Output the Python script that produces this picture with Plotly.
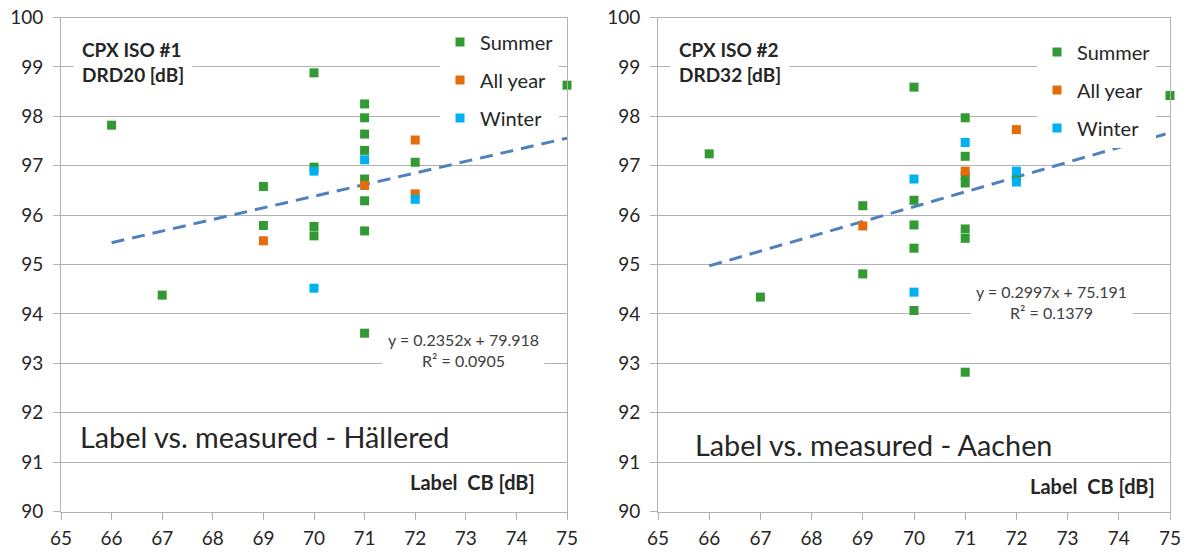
import plotly.graph_objects as go

W, H = 1187, 554

# ---------------- data ----------------
x_ticks = list(range(65, 76))
y_ticks = list(range(90, 101))

# Hällered (CPX ISO #1, DRD20)
h_summer_x = [66, 67, 69, 69, 70, 70, 70, 70, 71, 71, 71, 71, 71, 71, 71, 71, 72, 75]
h_summer_y = [97.82, 94.38, 96.58, 95.79, 98.88, 96.97, 95.77, 95.58, 98.25, 97.97,
              97.64, 97.31, 96.73, 96.29, 95.68, 93.61, 97.07, 98.63]
h_allyear_x = [69, 71, 72, 72]
h_allyear_y = [95.48, 96.60, 97.52, 96.43]
h_winter_x = [70, 70, 71, 72]
h_winter_y = [96.89, 94.52, 97.12, 96.32]
h_slope, h_intercept, h_r2 = 0.2352, 79.918, 0.0905

# Aachen (CPX ISO #2, DRD32)
a_summer_x = [66, 67, 69, 69, 70, 70, 70, 70, 70, 71, 71, 71, 71, 71, 71, 71, 72, 75]
a_summer_y = [97.24, 94.34, 96.19, 94.81, 98.59, 96.30, 95.80, 95.33, 94.07, 97.97,
              97.19, 96.80, 96.65, 95.72, 95.53, 92.82, 96.78, 98.42]
a_allyear_x = [69, 71, 72]
a_allyear_y = [95.78, 96.89, 97.73]
a_winter_x = [70, 70, 71, 72, 72]
a_winter_y = [96.73, 94.44, 97.47, 96.89, 96.67]
a_slope, a_intercept, a_r2 = 0.2997, 75.191, 0.1379

trend_x = [66, 75]
season_names = ["Summer", "All year", "Winter"]

# ---------------- style ----------------
GREEN, ORANGE, BLUE = "#339933", "#E46C0A", "#00B0F0"
TREND = "#4F81BD"
GRID = "#B2B2B2"
TXT = "#262626"
FONT = "Lato"


def fx(p):
    return p / W


def fy(p):
    return 1 - p / H


fig = go.Figure()

panels = [
    dict(xa="x", ya="y", leg="legend",
         data=[(h_summer_x, h_summer_y), (h_allyear_x, h_allyear_y), (h_winter_x, h_winter_y)],
         slope=h_slope, icpt=h_intercept),
    dict(xa="x2", ya="y2", leg="legend2",
         data=[(a_summer_x, a_summer_y), (a_allyear_x, a_allyear_y), (a_winter_x, a_winter_y)],
         slope=a_slope, icpt=a_intercept),
]
colors = [GREEN, ORANGE, BLUE]

for pi, p in enumerate(panels):
    fig.add_trace(go.Scatter(
        x=trend_x, y=[p["slope"] * v + p["icpt"] for v in trend_x],
        mode="lines", line=dict(color=TREND, width=3, dash="13px,8px"),
        xaxis=p["xa"], yaxis=p["ya"], showlegend=False, hoverinfo="skip"))
    for si, (xs, ys) in enumerate(p["data"]):
        fig.add_trace(go.Scatter(
            x=xs, y=ys, mode="markers", name=season_names[si],
            marker=dict(symbol="square", size=9, color=colors[si], line=dict(width=0)),
            xaxis=p["xa"], yaxis=p["ya"], legend=p["leg"],
            legendgroup=f"{pi}-{si}", cliponaxis=False))

axis_common = dict(showline=True, linecolor=GRID, linewidth=1, mirror=True,
                   ticks="outside", ticklen=7, tickcolor=GRID, zeroline=False,
                   automargin=False,
                   tickfont=dict(size=19, color=TXT, family=FONT))
xcommon = dict(axis_common, range=[65, 75], tickvals=x_ticks, showgrid=False,
               ticklabelstandoff=3)
ycommon = dict(axis_common, range=[90, 100], tickvals=y_ticks, showgrid=True,
               gridcolor=GRID, gridwidth=1, ticklabelstandoff=6)

ydom = [fy(511.5), fy(17.5)]

legend_common = dict(bgcolor="white", borderwidth=0, xanchor="left", yanchor="top",
                     font=dict(size=20, color=TXT, family=FONT), tracegroupgap=9,
                     itemwidth=30)

bold_font = dict(size=19, color=TXT, family=FONT, weight="bold")
cb_font = dict(size=20, color=TXT, family=FONT, weight="bold")
eq_font = dict(size=16, color="#404040", family=FONT)
big_font = dict(size=28.8, color=TXT, family=FONT)

annotations = [
    # left panel
    dict(text="CPX ISO #1<br>DRD20 [dB]", x=65.237, y=99.09, xref="x", yref="y",
         xanchor="left", yanchor="middle", align="left", showarrow=False,
         font=bold_font, bgcolor="white", borderpad=8),
    dict(text=f"y = {h_slope}x + {h_intercept}<br>R² = {h_r2}", x=72.945, y=93.27,
         xref="x", yref="y", xanchor="center", yanchor="middle", align="center",
         showarrow=False, font=eq_font, bgcolor="white", borderpad=5),
    dict(text="Label vs. measured - Hällered", x=65.336, y=91.51, xref="x", yref="y",
         xanchor="left", yanchor="middle", showarrow=False, font=big_font),
    dict(text="Label\u00a0 CB [dB]", x=74.407, y=90.60, xref="x", yref="y",
         xanchor="right", yanchor="middle", showarrow=False, font=cb_font),
    # right panel
    dict(text="CPX ISO #2<br>DRD32 [dB]", x=65.234, y=99.09, xref="x2", yref="y2",
         xanchor="left", yanchor="middle", align="left", showarrow=False,
         font=bold_font, bgcolor="white", borderpad=8),
    dict(text=f"y = {a_slope}x + {a_intercept}<br>R² = {a_r2}", x=72.676, y=94.25,
         xref="x2", yref="y2", xanchor="center", yanchor="middle", align="center",
         showarrow=False, font=eq_font, bgcolor="white", borderpad=5),
    dict(text="Label vs. measured - Aachen", x=65.676, y=91.34, xref="x2", yref="y2",
         xanchor="left", yanchor="middle", showarrow=False, font=big_font),
    dict(text="Label\u00a0 CB [dB]", x=74.747, y=90.51, xref="x2", yref="y2",
         xanchor="right", yanchor="middle", showarrow=False, font=cb_font),
]

fig.update_layout(
    width=W, height=H,
    margin=dict(l=0, r=0, t=0, b=0, autoexpand=False),
    paper_bgcolor="white", plot_bgcolor="white",
    font=dict(family=FONT, color=TXT),
    xaxis=dict(xcommon, domain=[fx(61), fx(567)], anchor="y"),
    yaxis=dict(ycommon, domain=ydom, anchor="x"),
    xaxis2=dict(xcommon, domain=[fx(658), fx(1170)], anchor="y2"),
    yaxis2=dict(ycommon, domain=ydom, anchor="x2"),
    legend=dict(legend_common, x=fx(440), y=fy(22.5)),
    legend2=dict(legend_common, x=fx(1037), y=fy(32.5)),
    annotations=annotations,
    showlegend=True,
)

fig.write_html(
    "out.html",
    config={"displayModeBar": False},
    post_script="document.body.style.margin='0';document.body.style.overflow='hidden';",
)
